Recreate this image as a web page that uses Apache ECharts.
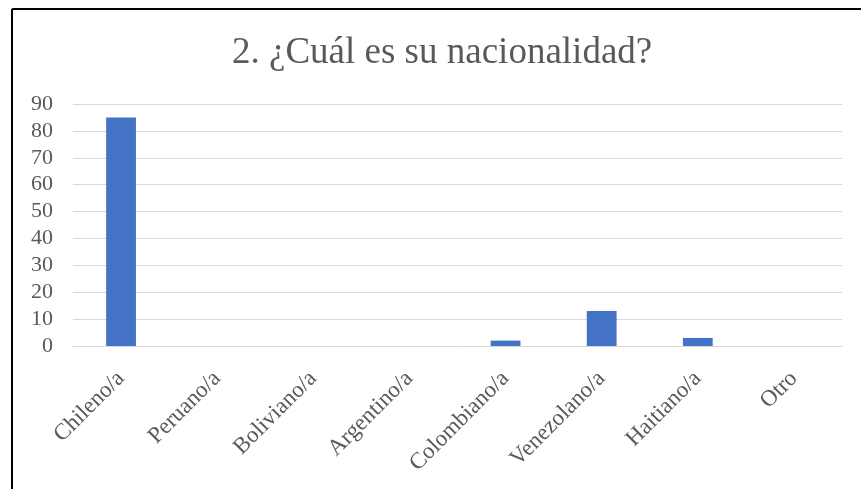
<!DOCTYPE html>
<html>
<head>
<meta charset="utf-8">
<script src="https://cdn.jsdelivr.net/npm/echarts@6/dist/echarts.min.js"></script>
<style>
  html, body { margin: 0; padding: 0; background: #fff; }
  #chart { width: 861px; height: 489px; }
</style>
</head>
<body>
<div id="chart"></div>
<script>
var categories = ['Chileno/a', 'Peruano/a', 'Boliviano/a', 'Argentino/a', 'Colombiano/a', 'Venezolano/a', 'Haitiano/a', 'Otro'];
var values = [85, 0, 0, 0, 2, 13, 3, 0];

var chart = echarts.init(document.getElementById('chart'));
var serif = '"Liberation Serif", "DejaVu Serif", serif';

var option = {
  backgroundColor: '#fff',
  animation: false,
  title: {
    text: '2. ¿Cuál es su nacionalidad?',
    left: 227,
    top: 30,
    textStyle: {
      fontFamily: serif,
      fontSize: 37,
      fontWeight: 'normal',
      color: '#595959'
    }
  },
  // frame lines seen at top and left of the picture
  graphic: [
    { type: 'line', shape: { x1: 12, y1: 9, x2: 861, y2: 9 }, style: { stroke: '#000', lineWidth: 2 } },
    { type: 'line', shape: { x1: 12, y1: 9, x2: 12, y2: 489 }, style: { stroke: '#000', lineWidth: 2 } }
  ],
  grid: {
    left: 73,
    right: 19,
    top: 104,
    bottom: 143
  },
  xAxis: {
    type: 'category',
    data: categories,
    axisTick: { show: false },
    axisLine: { lineStyle: { color: '#d9d9d9', width: 1 } },
    axisLabel: {
      rotate: 45,
      interval: 0,
      margin: 29,
      fontFamily: serif,
      fontSize: 23,
      color: '#595959'
    }
  },
  yAxis: {
    type: 'value',
    min: 0,
    max: 90,
    interval: 10,
    axisLine: { show: false },
    axisTick: { show: false },
    splitLine: { lineStyle: { color: '#d9d9d9', width: 1 } },
    axisLabel: {
      margin: 20,
      fontFamily: serif,
      fontSize: 22,
      color: '#595959'
    }
  },
  series: [
    {
      type: 'bar',
      data: values,
      barWidth: '31%',
      itemStyle: { color: '#4472c4' }
    }
  ]
};
chart.setOption(option);
</script>
</body>
</html>
